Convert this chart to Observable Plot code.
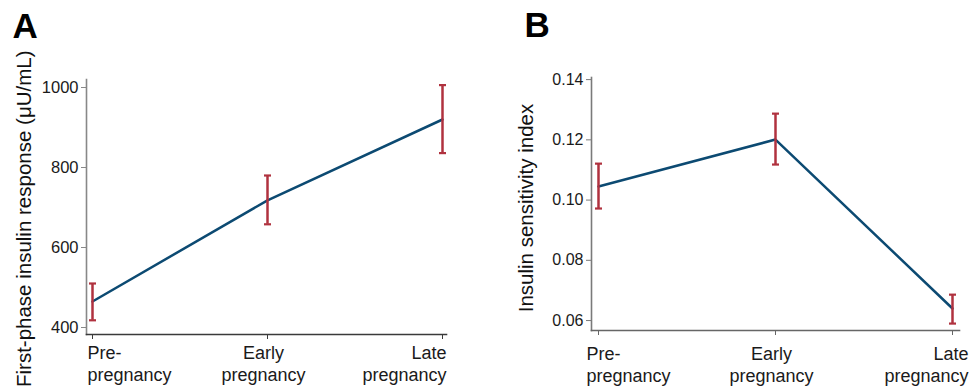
<!DOCTYPE html>
<html><head><meta charset="utf-8">
<script src="https://cdn.jsdelivr.net/npm/d3@7"></script>
<script src="https://cdn.jsdelivr.net/npm/@observablehq/plot@0.6"></script>
<style>
body{margin:0;background:#fff;}
#wrap{display:flex;width:972px;height:389px;overflow:hidden;background:#fff;}
#wrap svg{overflow:visible;flex:none;}
</style></head><body><div id="wrap"></div>
<script>
// ---- data ----
const categories = ["Pre-pregnancy", "Early pregnancy", "Late pregnancy"];
const tickLabels = ["Pre-\npregnancy", "Early\npregnancy", "Late\npregnancy"];

const firstPhaseMean = [465, 718, 920];
const firstPhaseLow  = [418, 658, 836];
const firstPhaseHigh = [510, 780, 1006];
const firstPhaseTicks = [400, 600, 800, 1000];

const sensitivityMean = [0.1045, 0.1201, 0.064];
const sensitivityLow  = [0.0972, 0.1118, 0.059];
const sensitivityHigh = [0.1121, 0.1287, 0.0686];
const sensitivityTicks = [0.06, 0.08, 0.10, 0.12, 0.14];

const BLUE = "#0c4a72";
const RED = "#b0323f";
const FONT = "'Liberation Sans', Arial, sans-serif";

const capSymbol = {draw(ctx) { ctx.moveTo(-3.5, 0); ctx.lineTo(3.5, 0); }};

function rowsOf(mean, low, high) {
  return categories.map((c, i) => ({cat: c, mean: mean[i], low: low[i], high: high[i]}));
}

function panel(o) {
  const rows = rowsOf(o.mean, o.low, o.high);
  const anchors = ["start", "middle", "end"];
  return Plot.plot({
    width: 486, height: 389,
    marginLeft: o.ml, marginRight: o.mr, marginTop: o.mt, marginBottom: o.mb,
    style: {fontFamily: FONT, fontSize: "16.5px", color: "#1a1a1a", background: "white", overflow: "visible"},
    x: {type: "point", domain: categories, padding: 0, insetLeft: o.insetL, insetRight: o.insetR},
    y: {domain: o.yDomain},
    marks: [
      Plot.frame({anchor: "left", stroke: o.leftAxis, strokeWidth: 1.6}),
      Plot.frame({anchor: "bottom", stroke: o.bottomAxis, strokeWidth: 1.6}),
      Plot.axisY({ticks: o.ticks, tickFormat: o.fmt, tickSize: 5, tickPadding: 3, stroke: o.leftAxis, fill: "#1a1a1a", label: null, fontSize: o.tickFont}),
      Plot.axisX({tickSize: 5, tickFormat: () => "", stroke: o.bottomAxis, label: null}),
      ...categories.map((c, i) => Plot.text([c], {
        x: d => d, text: () => tickLabels[i], frameAnchor: "bottom", lineAnchor: "top",
        textAnchor: anchors[i], dx: o.labelDx[i], dy: o.labelDy, fontSize: 18, lineHeight: 1.22, fill: "#1a1a1a"
      })),
      Plot.text([o.yLabel], {frameAnchor: o.yLabelFrame, rotate: -90, textAnchor: o.yLabelAnchor, lineAnchor: "bottom",
        dx: o.yLabelDx, dy: o.yLabelDy, fontSize: 20.5, fill: "#111"}),
      Plot.text([o.letter], {frameAnchor: "top-left", textAnchor: "start", lineAnchor: "top",
        dx: o.letterDx, dy: o.letterDy, fontSize: 35, fontWeight: "bold", fill: "#000"}),
      Plot.line(rows, {x: "cat", y: "mean", stroke: BLUE, strokeWidth: 2.5}),
      Plot.ruleX(rows, {x: "cat", y1: "low", y2: "high", stroke: RED, strokeWidth: 2.5}),
      Plot.dot(rows, {x: "cat", y: "high", symbol: capSymbol, fill: "none", stroke: RED, strokeWidth: 2.2}),
      Plot.dot(rows, {x: "cat", y: "low", symbol: capSymbol, fill: "none", stroke: RED, strokeWidth: 2.2})
    ]
  });
}

const wrap = document.getElementById("wrap");
wrap.append(panel({
  mean: firstPhaseMean, low: firstPhaseLow, high: firstPhaseHigh,
  ml: 86, mr: 40, mt: 79, mb: 55, insetL: 6, insetR: 4,
  yDomain: [382.5, 1020], ticks: firstPhaseTicks, fmt: d => String(d), tickFont: 16.5,
  leftAxis: "#888", bottomAxis: "#3a3a3a",
  labelDx: [-5, -4, 4], labelDy: 9,
  yLabel: "First-phase insulin response (\u03bcU/mL)", yLabelFrame: "top-left", yLabelAnchor: "end",
  yLabelDx: -56, yLabelDy: -29,
  letter: "A", letterDx: -74, letterDy: -66
}));
wrap.append(panel({
  mean: sensitivityMean, low: sensitivityLow, high: sensitivityHigh,
  ml: 105, mr: 13, mt: 77, mb: 59, insetL: 6, insetR: 7,
  yDomain: [0.0567, 0.1407], ticks: sensitivityTicks, fmt: d3.format(".2f"), tickFont: 16,
  leftAxis: "#7a7a7a", bottomAxis: "#666",
  labelDx: [-12, -4, 16], labelDy: 14,
  yLabel: "Insulin sensitivity index", yLabelFrame: "left", yLabelAnchor: "middle",
  yLabelDx: -59, yLabelDy: 4,
  letter: "B", letterDx: -67, letterDy: -65
}));
</script></body></html>
